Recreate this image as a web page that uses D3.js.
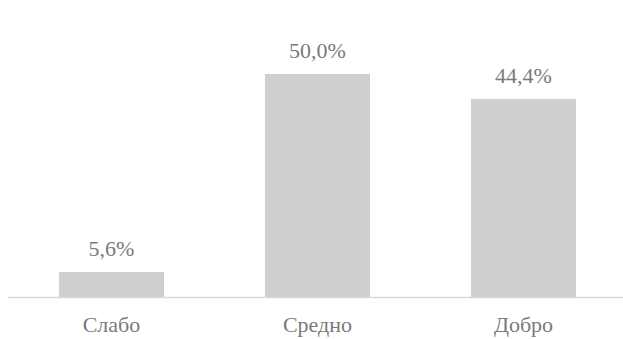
<!DOCTYPE html>
<html>
<head>
<meta charset="utf-8">
<script src="https://cdn.jsdelivr.net/npm/d3@7"></script>
<style>
  body { margin: 0; background: #fff; }
</style>
</head>
<body>
<div id="chart"></div>
<script>
// Data
const categories = ['Слабо', 'Средно', 'Добро'];
const values = [5.6, 50.0, 44.4];

const width = 623, height = 339;
const baseline = 297;

const svg = d3.select('#chart').append('svg')
    .attr('width', width)
    .attr('height', height)
    .style('font-family', "'Times New Roman', 'Liberation Serif', 'DejaVu Serif', serif");

// Band scale for the categories
const x = d3.scaleBand()
    .domain(categories)
    .range([8.5, 626.5])
    .paddingInner(0.49)
    .paddingOuter(0.245);

const y = d3.scaleLinear()
    .domain([0, 50])
    .range([baseline, 74]);

// Bars
svg.selectAll('rect.bar')
    .data(values)
    .enter().append('rect')
    .attr('class', 'bar')
    .attr('x', (d, i) => x(categories[i]))
    .attr('y', d => y(d))
    .attr('width', x.bandwidth())
    .attr('height', d => baseline - y(d))
    .attr('fill', '#d0cece');

// Axis line
svg.append('line')
    .attr('x1', 8).attr('x2', width)
    .attr('y1', baseline + 0.5).attr('y2', baseline + 0.5)
    .attr('stroke', '#d9d9d9')
    .attr('stroke-width', 1.5);

// Value labels
const fmt = d => d.toFixed(1).replace('.', ',') + '%';
svg.selectAll('text.value')
    .data(values)
    .enter().append('text')
    .attr('class', 'value')
    .attr('x', (d, i) => x(categories[i]) + x.bandwidth() / 2)
    .attr('y', d => y(d) - 16)
    .attr('text-anchor', 'middle')
    .attr('font-size', 22)
    .attr('fill', '#7a7a7a')
    .text(fmt);

// Category labels
svg.selectAll('text.cat')
    .data(categories)
    .enter().append('text')
    .attr('class', 'cat')
    .attr('x', d => x(d) + x.bandwidth() / 2)
    .attr('y', baseline + 35)
    .attr('text-anchor', 'middle')
    .attr('font-size', 22)
    .attr('fill', '#7a7a7a')
    .text(d => d);
</script>
</body>
</html>
